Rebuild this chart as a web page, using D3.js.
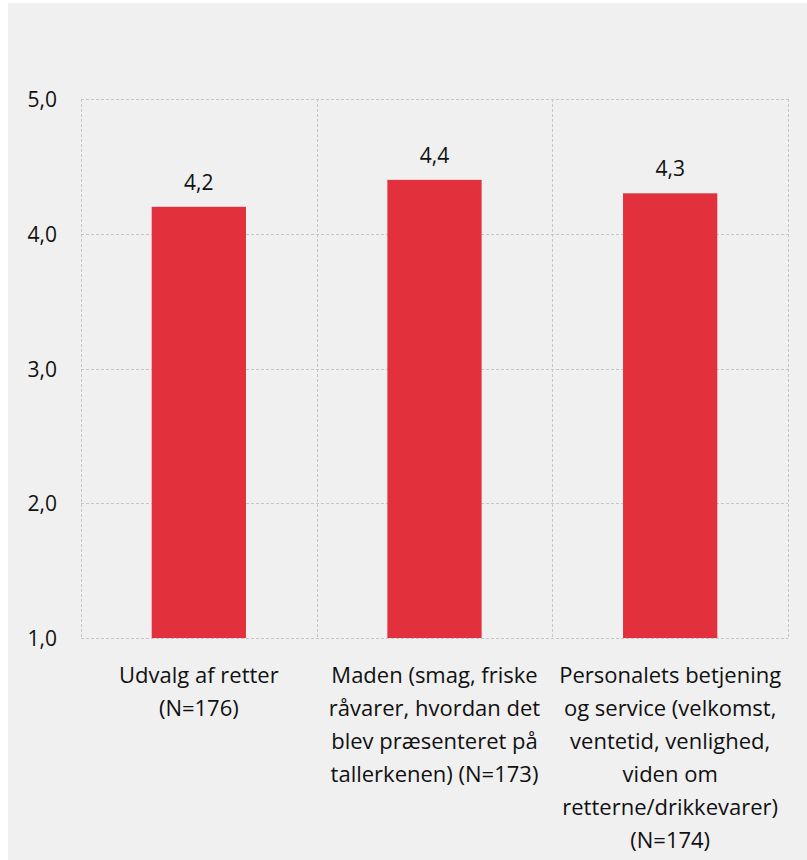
<!DOCTYPE html>
<html>
<head>
<meta charset="utf-8">
<script src="https://cdn.jsdelivr.net/npm/d3@7"></script>
<style>
  body { margin: 0; background: #fff; }
  svg { display: block; font-family: "Open Sans", "Noto Sans", sans-serif; }
</style>
</head>
<body>
<div id="chart"></div>
<script>
// categories (line breaks as in the original)
const categories = [
    "Udvalg af retter\n(N=176)",
    "Maden (smag, friske\nråvarer, hvordan det\nblev præsenteret på\ntallerkenen) (N=173)",
    "Personalets betjening\nog service (velkomst,\nventetid, venlighed,\nviden om\nretterne/drikkevarer)\n(N=174)"
];
const values = [4.2, 4.4, 4.3];
const yTicks = [1, 2, 3, 4, 5];

const W = 807, H = 860;
var margin = { top: 99, right: 19, bottom: 222, left: 81 },
    width = W - margin.left - margin.right,
    height = H - margin.top - margin.bottom;

const fmt = d => d.toFixed(1).replace('.', ',');

const svg = d3.select('#chart').append('svg')
    .attr('width', W)
    .attr('height', H);

// panel background
svg.append('rect')
    .attr('x', 8).attr('y', 3)
    .attr('width', W - 8).attr('height', H - 3)
    .attr('fill', '#f0f0f0');

const g = svg.append('g')
    .attr('transform', 'translate(' + margin.left + ',' + margin.top + ')');

var x = d3.scaleBand().domain(categories).range([0, width]).paddingInner(0).paddingOuter(0);
var y = d3.scaleLinear().domain([1, 5]).range([height, 0]);

// horizontal grid
g.selectAll('.hgrid')
    .data(yTicks)
    .enter().append('line')
    .attr('x1', 0).attr('x2', width)
    .attr('y1', d => Math.round(y(d)) + 0.5)
    .attr('y2', d => Math.round(y(d)) + 0.5)
    .attr('stroke', '#c6c6c6')
    .attr('stroke-dasharray', '3,2');

// vertical grid at category boundaries
const bounds = categories.map(c => x(c)).concat([width]);
g.selectAll('.vgrid')
    .data(bounds)
    .enter().append('line')
    .attr('x1', d => Math.round(d) + 0.5)
    .attr('x2', d => Math.round(d) + 0.5)
    .attr('y1', 0).attr('y2', height)
    .attr('stroke', '#c6c6c6')
    .attr('stroke-dasharray', '3,2');

// bars
const barW = x.bandwidth() * 0.4;
g.selectAll('.bar')
    .data(values)
    .enter().append('rect')
    .attr('x', (d, i) => x(categories[i]) + (x.bandwidth() - barW) / 2)
    .attr('y', d => y(d))
    .attr('width', barW)
    .attr('height', d => height - y(d))
    .attr('fill', '#e2303d');

// value labels
g.selectAll('.val')
    .data(values)
    .enter().append('text')
    .attr('x', (d, i) => x(categories[i]) + x.bandwidth() / 2)
    .attr('y', d => y(d) - 17)
    .attr('text-anchor', 'middle')
    .attr('font-size', 21)
    .attr('fill', '#111')
    .text(fmt);

// y axis labels
g.selectAll('.ytick')
    .data(yTicks)
    .enter().append('text')
    .attr('x', -24)
    .attr('y', d => y(d) + 8)
    .attr('text-anchor', 'end')
    .attr('font-size', 21)
    .attr('fill', '#111')
    .text(fmt);

// category labels
const cat = g.selectAll('.cat')
    .data(categories)
    .enter().append('text')
    .attr('text-anchor', 'middle')
    .attr('font-size', 22)
    .attr('fill', '#111')
    .attr('transform', d => 'translate(' + (x(d) + x.bandwidth() / 2) + ',' + (height + 45) + ')');

cat.selectAll('tspan')
    .data(d => d.split('\n'))
    .enter().append('tspan')
    .attr('x', 0)
    .attr('y', (d, i) => i * 33)
    .text(d => d);
</script>
</body>
</html>
